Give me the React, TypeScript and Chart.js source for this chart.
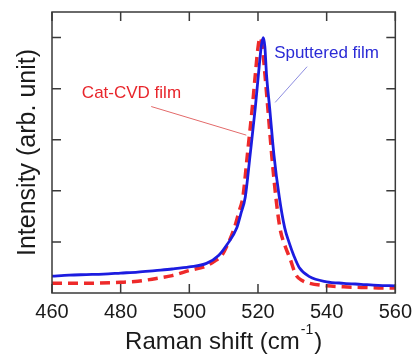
import React, { useEffect, useRef } from "react";
import { Chart, registerables } from "chart.js";

Chart.register(...registerables);

// Sputtered film (blue, solid)
const sputteredShift = [460, 465, 470, 475, 480, 485, 490, 495, 500, 505, 508.6, 511, 513.8, 515, 516.3, 517.7, 519.2, 520.1, 521, 521.56, 522, 522.5, 523.4, 524.65, 526.2, 527.8, 529, 530.5, 532, 535, 540, 545, 550, 555, 560];
const sputteredIntensity = [0.33, 0.35, 0.36, 0.37, 0.39, 0.41, 0.44, 0.47, 0.51, 0.58, 0.74, 0.95, 1.27, 1.55, 1.88, 2.7, 3.62, 4.26, 4.85, 5.0, 4.82, 4.26, 3.62, 2.7, 1.88, 1.27, 1.0, 0.72, 0.5, 0.32, 0.22, 0.19, 0.17, 0.15, 0.14];

// Cat-CVD film (red, dashed)
const catCvdShift = [460, 470, 480, 485, 490, 495, 500, 505, 507.5, 509.5, 511.5, 513.1, 514.5, 515.6, 516.9, 518.4, 519.2, 520, 520.6, 521.2, 522.05, 522.8, 524.0, 525.2, 526.4, 528, 529.3, 531, 533, 535, 540, 545, 550, 555, 560];
const catCvdIntensity = [0.19, 0.19, 0.21, 0.23, 0.28, 0.34, 0.44, 0.53, 0.63, 0.74, 1.0, 1.27, 1.6, 1.88, 2.7, 3.67, 4.26, 4.8, 5.0, 4.85, 4.26, 3.67, 2.7, 1.88, 1.27, 0.9, 0.68, 0.36, 0.24, 0.19, 0.14, 0.12, 0.11, 0.1, 0.1];

const xTicks = [460, 480, 500, 520, 540, 560];
const yTicks = [1, 2, 3, 4, 5];

const xTitleMain = "Raman shift (cm";
const xTitleSup = "-1";
const xTitleEnd = ")";
const yTitle = "Intensity (arb. unit)";

const annotations = [
  { text: "Cat-CVD film", color: "#e8252b", lineColor: "#e36a6a", labelX: 468.7, labelY: 3.9, from: [488.9, 3.65], to: [516.6, 3.09] },
  { text: "Sputtered film", color: "#2b2bd6", lineColor: "#8c8ce0", labelX: 524.7, labelY: 4.7, from: [534.3, 4.43], to: [525.0, 3.73] },
];

const FONT = "'Liberation Sans', Arial, sans-serif";

const decorPlugin = {
  id: "decor",
  afterDatasetsDraw(chart: any) {
    const { ctx, chartArea, scales } = chart;
    const xs = scales.x;
    const ys = scales.y;
    const { left, right, top, bottom } = chartArea;
    ctx.save();
    // annotations
    annotations.forEach((a) => {
      ctx.strokeStyle = a.lineColor;
      ctx.lineWidth = 1;
      ctx.beginPath();
      ctx.moveTo(xs.getPixelForValue(a.from[0]), ys.getPixelForValue(a.from[1]));
      ctx.lineTo(xs.getPixelForValue(a.to[0]), ys.getPixelForValue(a.to[1]));
      ctx.stroke();
      ctx.fillStyle = a.color;
      ctx.font = `17px ${FONT}`;
      ctx.textAlign = "left";
      ctx.textBaseline = "middle";
      ctx.fillText(a.text, xs.getPixelForValue(a.labelX), ys.getPixelForValue(a.labelY));
    });
    // frame
    ctx.strokeStyle = "#3a3a3a";
    ctx.lineWidth = 1.5;
    ctx.strokeRect(left, top, right - left, bottom - top);
    // ticks
    const tl = 9;
    ctx.lineWidth = 1.5;
    ctx.beginPath();
    xTicks.forEach((v) => {
      const px = xs.getPixelForValue(v);
      ctx.moveTo(px, bottom);
      ctx.lineTo(px, bottom - tl);
      ctx.moveTo(px, top);
      ctx.lineTo(px, top + tl);
    });
    yTicks.forEach((v) => {
      const py = ys.getPixelForValue(v);
      ctx.moveTo(left, py);
      ctx.lineTo(left + tl, py);
      ctx.moveTo(right, py);
      ctx.lineTo(right - tl, py);
    });
    ctx.stroke();
    // y title
    ctx.fillStyle = "#1a1a1a";
    ctx.font = `25px ${FONT}`;
    ctx.textAlign = "center";
    ctx.textBaseline = "middle";
    ctx.save();
    ctx.translate(28, (top + bottom) / 2);
    ctx.rotate(-Math.PI / 2);
    ctx.fillText(yTitle, 0, 0);
    ctx.restore();
    // x title with superscript
    ctx.font = `24px ${FONT}`;
    const w1 = ctx.measureText(xTitleMain).width;
    const w3 = ctx.measureText(xTitleEnd).width;
    ctx.font = `14px ${FONT}`;
    const w2 = ctx.measureText(xTitleSup).width;
    const total = w1 + w2 + 2 + w3;
    let x0 = (left + right) / 2 - total / 2;
    const yBase = 349;
    ctx.textAlign = "left";
    ctx.textBaseline = "alphabetic";
    ctx.font = `24px ${FONT}`;
    ctx.fillText(xTitleMain, x0, yBase);
    ctx.font = `14px ${FONT}`;
    ctx.fillText(xTitleSup, x0 + w1 + 1, yBase - 15);
    ctx.font = `24px ${FONT}`;
    ctx.fillText(xTitleEnd, x0 + w1 + w2 + 2, yBase);
    ctx.restore();
  },
};

export default function App() {
  const ref = useRef<HTMLCanvasElement>(null);
  useEffect(() => {
    const canvas = ref.current;
    if (!canvas) return;
    const chart = new Chart(canvas, {
      type: "line",
      data: {
        datasets: [
          {
            label: "Sputtered film",
            data: sputteredShift.map((x, i) => ({ x, y: sputteredIntensity[i] })),
            borderColor: "#1c1ce0",
            borderWidth: 2.8,
            pointRadius: 0,
            cubicInterpolationMode: "monotone",
            fill: false,
            order: 0,
          },
          {
            label: "Cat-CVD film",
            data: catCvdShift.map((x, i) => ({ x, y: catCvdIntensity[i] })),
            borderColor: "#ee2a2a",
            borderWidth: 3.5,
            borderDash: [10, 6],
            pointRadius: 0,
            cubicInterpolationMode: "monotone",
            fill: false,
            order: 1,
          },
        ],
      },
      options: {
        animation: false,
        responsive: false,
        maintainAspectRatio: false,
        layout: { padding: { top: 12, right: 21, left: 0, bottom: 0 } },
        plugins: { legend: { display: false }, tooltip: { enabled: false } },
        scales: {
          x: {
            type: "linear",
            min: 460,
            max: 560,
            afterBuildTicks: (s: any) => {
              s.ticks = xTicks.map((v) => ({ value: v }));
            },
            afterFit: (s: any) => {
              s.height = 61;
            },
            grid: { display: false, drawTicks: false },
            border: { display: false },
            ticks: {
              padding: 7,
              color: "#1a1a1a",
              font: { size: 20, family: FONT },
              maxRotation: 0,
            },
          },
          y: {
            type: "linear",
            min: 0,
            max: 5.5,
            afterFit: (s: any) => {
              s.width = 52;
            },
            grid: { display: false, drawTicks: false },
            border: { display: false },
            ticks: { display: false },
          },
        },
      },
      plugins: [decorPlugin],
    } as any);
    return () => chart.destroy();
  }, []);
  return (
    <div style={{ position: "fixed", left: 0, top: 0, width: 419, height: 354, background: "#fff" }}>
      <canvas ref={ref} width={419} height={354} style={{ width: 419, height: 354, display: "block" }} />
    </div>
  );
}
